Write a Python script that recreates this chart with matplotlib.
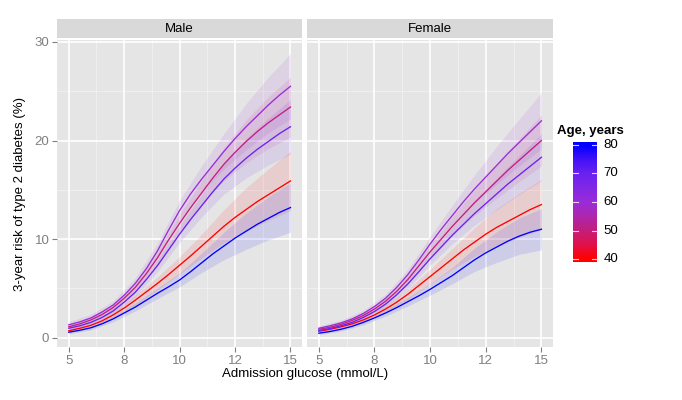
import numpy as np
import matplotlib
matplotlib.use("Agg")
import matplotlib.pyplot as plt
from matplotlib.colors import LinearSegmentedColormap, Normalize

plt.rcParams['font.family'] = ['Liberation Sans', 'DejaVu Sans']

# glucose grids (mmol/L) and ages (years)
glucose = [5, 5.5, 6, 6.5, 7, 7.5, 8, 8.5, 9, 9.5, 10,
           10.5, 11, 11.5, 12, 12.5, 13, 13.5, 14, 14.5, 15]
glucose_ci = [5, 6, 7, 8, 9, 10, 11, 12, 13, 14, 15]
ages = [40, 50, 60, 70, 80]

# fitted 3-year risk (%), one row per age
male_fit = [
    [0.7, 0.95, 1.25, 1.7, 2.3, 3.0, 3.8, 4.65, 5.5, 6.4, 7.35,
     8.3, 9.3, 10.3, 11.3, 12.2, 13.0, 13.8, 14.5, 15.2, 15.9],
    [1.1, 1.4, 1.8, 2.35, 3.05, 4.0, 5.1, 6.5, 8.1, 9.9, 11.6,
     13.2, 14.7, 16.2, 17.6, 18.8, 19.9, 20.9, 21.8, 22.6, 23.4],
    [1.3, 1.6, 2.0, 2.6, 3.3, 4.3, 5.5, 7.0, 8.8, 10.9, 12.9,
     14.6, 16.1, 17.5, 18.9, 20.2, 21.4, 22.5, 23.6, 24.6, 25.5],
    [0.95, 1.2, 1.55, 2.05, 2.7, 3.6, 4.6, 5.9, 7.3, 8.9, 10.5,
     12.0, 13.4, 14.8, 16.1, 17.2, 18.2, 19.1, 19.9, 20.7, 21.4],
    [0.55, 0.75, 1.0, 1.4, 1.9, 2.5, 3.1, 3.8, 4.5, 5.15, 5.85,
     6.7, 7.6, 8.5, 9.3, 10.1, 10.8, 11.5, 12.1, 12.7, 13.2],
]
female_fit = [
    [0.65, 0.85, 1.1, 1.4, 1.8, 2.3, 2.9, 3.6, 4.4, 5.3, 6.2,
     7.1, 8.0, 8.9, 9.7, 10.5, 11.2, 11.8, 12.4, 13.0, 13.5],
    [0.85, 1.05, 1.35, 1.75, 2.25, 2.9, 3.7, 4.7, 5.9, 7.3, 8.7,
     10.0, 11.3, 12.5, 13.7, 14.8, 15.9, 17.0, 18.0, 19.0, 20.0],
    [0.95, 1.2, 1.5, 1.9, 2.45, 3.15, 4.0, 5.1, 6.4, 7.9, 9.5,
     11.0, 12.4, 13.8, 15.1, 16.3, 17.5, 18.7, 19.8, 20.9, 22.0],
    [0.72, 0.92, 1.2, 1.55, 2.05, 2.65, 3.4, 4.35, 5.45, 6.7, 8.0,
     9.2, 10.4, 11.5, 12.6, 13.6, 14.6, 15.6, 16.5, 17.4, 18.3],
    [0.45, 0.62, 0.85, 1.15, 1.55, 2.0, 2.5, 3.05, 3.65, 4.25, 4.9,
     5.6, 6.3, 7.1, 7.9, 8.6, 9.2, 9.8, 10.3, 10.7, 11.0],
]

# 95% band, on the coarser glucose_ci grid
male_lo = [
    [0.49, 0.98, 1.93, 3.31, 4.84, 6.47, 8.09, 9.61, 10.79, 11.89, 12.88],
    [0.83, 1.48, 2.65, 4.59, 7.41, 10.67, 13.45, 15.93, 17.71, 19.18, 20.36],
    [0.98, 1.64, 2.87, 4.95, 8.05, 11.87, 14.73, 17.1, 19.05, 20.77, 22.19],
    [0.71, 1.27, 2.35, 4.14, 6.68, 9.66, 12.26, 14.57, 16.2, 17.51, 18.62],
    [0.39, 0.78, 1.6, 2.7, 3.96, 5.15, 6.61, 7.91, 8.96, 9.92, 10.69],
]
male_hi = [
    [0.91, 1.53, 2.67, 4.29, 6.16, 8.23, 10.51, 13.0, 15.21, 17.11, 18.92],
    [1.38, 2.12, 3.45, 5.61, 8.79, 12.53, 15.95, 19.27, 22.09, 24.42, 26.44],
    [1.63, 2.36, 3.73, 6.05, 9.55, 13.93, 17.47, 20.7, 23.75, 26.43, 28.82],
    [1.19, 1.83, 3.05, 5.06, 7.92, 11.34, 14.54, 17.63, 20.2, 22.29, 24.18],
    [0.72, 1.22, 2.2, 3.5, 5.04, 6.55, 8.59, 10.7, 12.64, 14.28, 15.71],
]
female_lo = [
    [0.46, 0.86, 1.51, 2.52, 3.87, 5.46, 6.96, 8.25, 9.3, 10.17, 10.94],
    [0.64, 1.11, 1.96, 3.33, 5.4, 8.0, 10.34, 12.4, 14.15, 15.84, 17.4],
    [0.71, 1.23, 2.13, 3.6, 5.86, 8.74, 11.35, 13.67, 15.58, 17.42, 19.14],
    [0.54, 0.98, 1.78, 3.06, 4.99, 7.36, 9.52, 11.4, 12.99, 14.52, 15.92],
    [0.32, 0.66, 1.3, 2.18, 3.21, 4.31, 5.48, 6.72, 7.64, 8.45, 8.91],
]
female_hi = [
    [0.85, 1.34, 2.09, 3.28, 4.93, 6.94, 9.04, 11.16, 13.1, 14.63, 16.07],
    [1.06, 1.59, 2.54, 4.07, 6.4, 9.4, 12.26, 15.0, 17.65, 20.16, 22.6],
    [1.19, 1.77, 2.77, 4.4, 6.94, 10.26, 13.45, 16.53, 19.43, 22.18, 24.86],
    [0.9, 1.42, 2.32, 3.74, 5.91, 8.64, 11.28, 13.8, 16.21, 18.48, 20.68],
    [0.59, 1.04, 1.8, 2.83, 4.09, 5.49, 7.12, 9.09, 10.76, 12.15, 13.09],
]

panels = ['Male', 'Female']
x_ticks = [5, 7.5, 10, 12.5, 15]
x_labels = ['5', '8', '10', '12', '15']
y_ticks = [0, 10, 20, 30]
age_ticks = [40, 50, 60, 70, 80]

# colour bar stops as seen in the legend
stop_ages = [40, 45, 50, 55, 60, 65, 70, 75, 80]
stop_cols = ['#FF0000', '#E0124A', '#C41E7C', '#AE26AE', '#9A2CD8',
             '#8228E6', '#6A22F0', '#4412F6', '#0000FF']

norm = Normalize(40, 80)
cmap = LinearSegmentedColormap.from_list(
    'age', [(norm(a), c) for a, c in zip(stop_ages, stop_cols)])

fig = plt.figure(figsize=(6.82, 4), dpi=100)
W, H = 682, 400


def px_axes(x0, y0, x1, y1):
    return fig.add_axes([x0 / W, 1 - y1 / H, (x1 - x0) / W, (y1 - y0) / H])


grey_txt = '#7F7F7F'
panel_px = [(57, 302), (307, 553)]
fits = [male_fit, female_fit]
los = [male_lo, female_lo]
his = [male_hi, female_hi]

for p, name in enumerate(panels):
    x0, x1 = panel_px[p]
    ax = px_axes(x0, 40, x1, 347)
    ax.set_facecolor('#E5E5E5')
    for s in ax.spines.values():
        s.set_visible(False)
    ax.set_xlim(4.47, 15.52)
    ax.set_ylim(-0.95, 30.2)
    for v in [6.25, 8.75, 11.25, 13.75]:
        ax.axvline(v, color='#F2F2F2', lw=0.6, zorder=0)
    for v in [5, 15, 25]:
        ax.axhline(v, color='#F2F2F2', lw=0.6, zorder=0)
    for v in x_ticks:
        ax.axvline(v, color='white', lw=1.2, zorder=0)
    for v in y_ticks:
        ax.axhline(v, color='white', lw=1.2, zorder=0)

    for i, age in enumerate(ages):
        ax.fill_between(glucose_ci, los[p][i], his[p][i],
                        color=cmap(norm(age)), alpha=0.1, lw=0, zorder=1)
    for i, age in enumerate(ages):
        ax.plot(glucose, fits[p][i], color=cmap(norm(age)), lw=0.95,
                zorder=2, solid_joinstyle='round')

    ax.set_xticks(x_ticks)
    ax.set_xticklabels(x_labels)
    ax.tick_params(axis='x', colors=grey_txt, length=3.5, width=0.8,
                   labelsize=9.5, pad=2)
    if p == 0:
        ax.set_yticks(y_ticks)
        ax.tick_params(axis='y', colors=grey_txt, length=3.5, width=0.8,
                       labelsize=9.5, pad=2)
        ax.set_ylabel('3-year risk of type 2 diabetes (%)', fontsize=9.5,
                      color='black', labelpad=6)
    else:
        ax.set_yticks([])
    for lab in ax.get_xticklabels() + ax.get_yticklabels():
        lab.set_color(grey_txt)

    strip = px_axes(x0, 19, x1, 38)
    strip.set_facecolor('#D9D9D9')
    strip.set_xticks([])
    strip.set_yticks([])
    for s in strip.spines.values():
        s.set_visible(False)
    strip.text(0.5, 0.5, name, ha='center', va='center', fontsize=9.5,
               transform=strip.transAxes)

fig.text(305 / W, 1 - 374 / H, 'Admission glucose (mmol/L)', ha='center',
         va='center', fontsize=9.5)

# colour bar legend
cax = px_axes(573, 142, 597, 262)
grad = np.linspace(38.95, 81.05, 200)[:, None]
cax.imshow(grad, cmap=cmap, norm=norm, aspect='auto', origin='lower',
           extent=[0, 1, 38.95, 81.05])
cax.set_xlim(0, 1)
cax.set_ylim(38.95, 81.05)
for s in cax.spines.values():
    s.set_visible(False)
cax.set_xticks([])
cax.set_yticks([])
for a in age_ticks:
    cax.plot([0, 0.2], [a, a], color='white', lw=0.8, alpha=0.8)
    cax.plot([0.8, 1], [a, a], color='white', lw=0.8, alpha=0.8)
    cax.text(1.28, a, str(a), ha='left', va='center', fontsize=9.5,
             transform=cax.get_yaxis_transform())
fig.text(557 / W, 1 - 131 / H, 'Age, years', ha='left', va='center',
         fontsize=9.5, fontweight='bold')

fig.savefig('out.png', dpi=100)
